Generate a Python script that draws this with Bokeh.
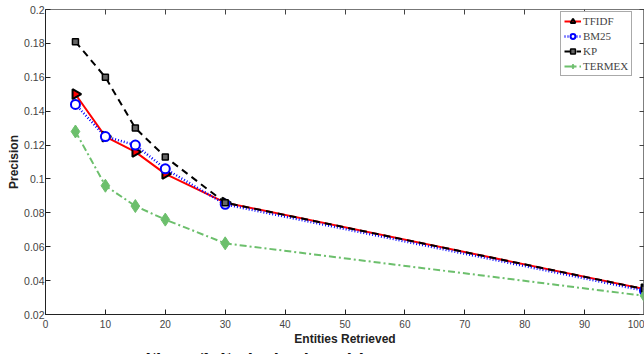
import math
from bokeh.plotting import figure
from bokeh.layouts import column
from bokeh.models import LinearAxis, Legend, LegendItem, Div, FixedTicker, Range1d
from bokeh.embed import file_html
from bokeh.resources import INLINE

x = [5, 10, 15, 20, 30, 100]
tfidf = [0.150, 0.125, 0.116, 0.103, 0.086, 0.035]
bm25 = [0.144, 0.125, 0.120, 0.106, 0.085, 0.034]
kp = [0.181, 0.160, 0.130, 0.113, 0.086, 0.035]
termex = [0.128, 0.096, 0.084, 0.076, 0.062, 0.031]

x_ticks = [0, 10, 20, 30, 40, 50, 60, 70, 80, 90, 100]
y_ticks = [0.02, 0.04, 0.06, 0.08, 0.1, 0.12, 0.14, 0.16, 0.18, 0.2]
y_tick_labels = ["0.02", "0.04", "0.06", "0.08", "0.1", "0.12", "0.14", "0.16", "0.18", "0.2"]

p = figure(width=644, height=348, output_backend="svg", toolbar_location=None,
           x_range=Range1d(0, 100), y_range=Range1d(0.02, 0.2),
           min_border_left=45, min_border_right=0, min_border_top=9, min_border_bottom=0)
p.xgrid.visible = False
p.ygrid.visible = False
p.outline_line_color = "#777777"
p.outline_line_width = 1

font = "Liberation Sans"
for ax in (p.xaxis[0], p.yaxis[0]):
    ax.major_tick_in = 5
    ax.major_tick_out = 0
    ax.minor_tick_in = 0
    ax.minor_tick_out = 0
    ax.major_label_text_font = font
    ax.major_label_text_font_size = "10px"
    ax.major_label_text_color = "#444444"
    ax.axis_label_text_font = font
    ax.axis_label_text_font_size = "12px"
    ax.axis_label_text_font_style = "bold"
    ax.axis_label_text_color = "#222222"
    ax.axis_line_color = "#222222"
    ax.major_tick_line_color = "#222222"

p.yaxis[0].major_label_text_font_size = "10.5px"
p.xaxis[0].ticker = FixedTicker(ticks=x_ticks)
p.yaxis[0].ticker = FixedTicker(ticks=y_ticks)
p.yaxis[0].major_label_overrides = {t: l for t, l in zip(y_ticks, y_tick_labels)}
p.xaxis[0].axis_label = "Entities Retrieved"
p.yaxis[0].axis_label = "Precision"
p.xaxis[0].major_label_standoff = 5
p.xaxis[0].axis_label_standoff = 1
p.yaxis[0].major_label_standoff = 1
p.yaxis[0].axis_label_standoff = 0

top = LinearAxis(ticker=FixedTicker(ticks=x_ticks), major_tick_in=5, major_tick_out=0,
                 minor_tick_in=0, minor_tick_out=0,
                 major_label_overrides={t: "" for t in x_ticks},
                 major_label_standoff=0, axis_label_standoff=0,
                 axis_line_color="#777777", major_tick_line_color="#444444")
right = LinearAxis(ticker=FixedTicker(ticks=y_ticks), major_tick_in=5, major_tick_out=0,
                   minor_tick_in=0, minor_tick_out=0,
                   major_label_overrides={t: "" for t in y_ticks},
                   major_label_standoff=0, axis_label_standoff=0,
                   axis_line_color="#888888", axis_line_width=2,
                   major_tick_line_color="#444444")
p.add_layout(top, "above")
p.add_layout(right, "right")

green = "#6cbf6c"
l1 = p.line(x, tfidf, line_color="red", line_width=2)
m1 = p.scatter(x, tfidf, marker="triangle", angle=-math.pi / 2, size=10,
               fill_color="red", line_color="black", line_width=2)
l2 = p.line(x, bm25, line_color="blue", line_width=2.5, line_dash="1 2")
m2 = p.scatter(x, bm25, marker="circle", size=9, fill_color="white",
               line_color="blue", line_width=2)
l3 = p.line(x, kp, line_color="black", line_width=2, line_dash="7 5")
m3 = p.scatter(x, kp, marker="square", size=6, fill_color="#666666",
               line_color="black", line_width=1.5)
l4 = p.line(x, termex, line_color=green, line_width=2, line_dash="7 3 2 3")
m4 = p.scatter(x, termex, marker="diamond", size=13, fill_color=green,
               line_color=green, line_width=1)

legend = Legend(items=[
    LegendItem(label="TFIDF", renderers=[l1, m1]),
    LegendItem(label="BM25", renderers=[l2, m2]),
    LegendItem(label="KP", renderers=[l3, m3]),
    LegendItem(label="TERMEX", renderers=[l4, m4]),
], location=(515, 238))
legend.label_text_font = "Liberation Serif"
legend.label_text_font_size = "11px"
legend.label_standoff = 2
legend.label_height = 12
legend.glyph_width = 17
legend.glyph_height = 12
legend.spacing = 3
legend.padding = 3
legend.margin = 0
legend.border_line_color = "#555555"
legend.border_line_width = 1
legend.background_fill_alpha = 1
p.add_layout(legend)

caption = Div(text="Figure 3: Entity-level precision", width=644, height=6,
              styles={"overflow": "hidden"},
              stylesheets=[":host{overflow:hidden;} div{font-family:'Liberation Serif';font-size:18px;font-weight:bold;line-height:12px;padding-left:140px;color:#111;white-space:nowrap;}"])

layout = column(p, caption, spacing=0)
open("out.html", "w").write(file_html(layout, INLINE))
